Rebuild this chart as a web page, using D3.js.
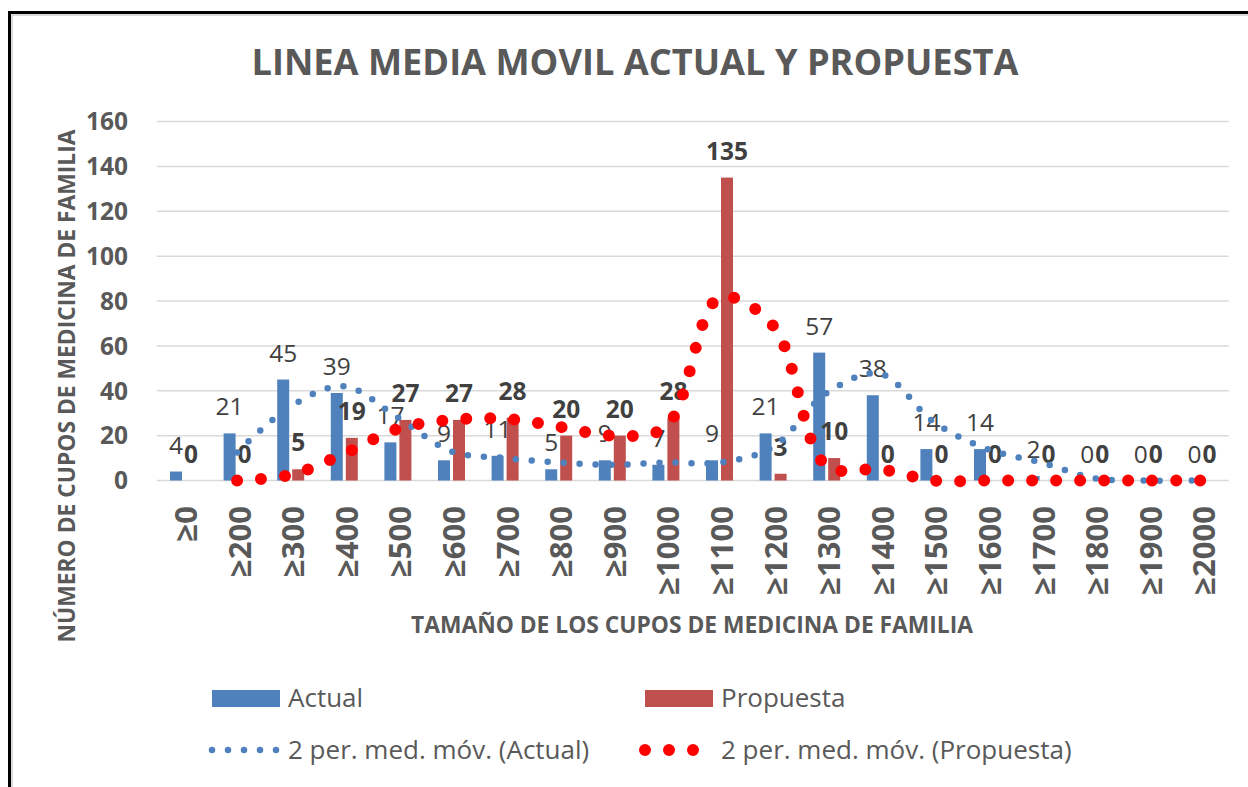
<!DOCTYPE html>
<html>
<head>
<meta charset="utf-8">
<script src="https://cdn.jsdelivr.net/npm/d3@7"></script>
<style>
  body { margin: 0; background: #fff; }
  svg { display: block; font-family: "Open Sans", "DejaVu Sans", sans-serif; }
</style>
</head>
<body>
<div id="container"></div>
<script>
// ---------------------------- DATA ----------------------------//
var categories = ["≥0", "≥200", "≥300", "≥400", "≥500", "≥600", "≥700", "≥800", "≥900", "≥1000",
  "≥1100", "≥1200", "≥1300", "≥1400", "≥1500", "≥1600", "≥1700", "≥1800", "≥1900", "≥2000"];
var actual = [4, 21, 45, 39, 17, 9, 11, 5, 9, 7, 9, 21, 57, 38, 14, 14, 2, 0, 0, 0];
var propuesta = [0, 0, 5, 19, 27, 27, 28, 20, 20, 28, 135, 3, 10, 0, 0, 0, 0, 0, 0, 0];
// moving average (2 periods) values as drawn by the trendlines
var mmActual = [null, 12.5, 33, 42, 28, 13, 10, 8, 7, 8, 8, 15, 39, 47.5, 26, 14, 8, 1, 0, 0];
var mmPropuesta = [null, 0, 2.5, 12, 23, 27, 27.5, 24, 20, 24, 81.5, 69, 6.5, 5, 0, 0, 0, 0, 0, 0];
var yTicks = [0, 20, 40, 60, 80, 100, 120, 140, 160];
var seriesNames = ["Actual", "Propuesta"];

var colors = { Actual: "#4F81BD", Propuesta: "#C0504D" };
var textGray = "#595959";
var labelGray = "#404040";

// ---------------------------- SVG -----------------------------//
const width = 1248;
const height = 787;

const svg = d3.select("div#container").append("svg")
    .attr("width", width)
    .attr("height", height);

// frame
svg.append("rect")
    .attr("x", 12).attr("y", 15)
    .attr("width", width).attr("height", height)
    .attr("fill", "none").attr("stroke", "#d0d0d0").attr("stroke-width", 1.5);
svg.append("rect")
    .attr("x", 9.5).attr("y", 12.5)
    .attr("width", width).attr("height", height)
    .attr("fill", "none").attr("stroke", "#000").attr("stroke-width", 3);

// --------------------------- SCALES ---------------------------//
const x0 = d3.scaleBand().domain(categories).range([156.7, 1228.7]);
const bw = x0.bandwidth();
const x1 = d3.scaleBand().domain(seriesNames)
    .range([bw / 2 - 13.5, bw / 2 + 13.5]).paddingInner(0.2);
const y = d3.scaleLinear().domain([0, 160]).range([480.5, 121.5]);

// ---------------------------- GRID ----------------------------//
svg.append("g").selectAll("line")
  .data(yTicks)
  .enter().append("line")
    .attr("x1", 156.7).attr("x2", 1228.7)
    .attr("y1", d => y(d)).attr("y2", d => y(d))
    .attr("stroke", "#D9D9D9").attr("stroke-width", 1.5);

// y tick labels
svg.append("g").selectAll("text")
  .data(yTicks)
  .enter().append("text")
    .attr("x", 128).attr("y", d => y(d))
    .attr("dy", "0.36em")
    .attr("text-anchor", "end")
    .attr("font-size", 24.5).attr("font-weight", "bold")
    .attr("fill", textGray)
    .text(d => d);

// x tick labels
svg.append("g").selectAll("text")
  .data(categories)
  .enter().append("text")
    .attr("transform", d => "translate(" + (x0(d) + bw / 2 + 13.5) + ",506) rotate(-90)")
    .attr("text-anchor", "end")
    .attr("font-size", 31).attr("font-weight", "bold")
    .attr("fill", textGray)
    .text(d => d);

// ---------------------------- BARS ----------------------------//
var rows = categories.map(function(c, i) {
  return { cat: c, Actual: actual[i], Propuesta: propuesta[i] };
});

const groups = svg.append("g").selectAll("g")
  .data(rows)
  .enter().append("g")
    .attr("transform", d => "translate(" + x0(d.cat) + ",0)");

groups.selectAll("rect")
  .data(d => seriesNames.map(k => ({ key: k, value: d[k] })))
  .enter().append("rect")
    .attr("x", d => x1(d.key))
    .attr("width", x1.bandwidth())
    .attr("y", d => y(d.value))
    .attr("height", d => y(0) - y(d.value))
    .attr("fill", d => colors[d.key]);

// ----------------------- MOVING AVERAGES ----------------------//
const line = d3.line()
    .defined(d => d.v != null)
    .x(d => x0(d.cat) + bw / 2)
    .y(d => y(d.v))
    .curve(d3.curveCatmullRom.alpha(0.5));

svg.append("path")
    .datum(categories.map((c, i) => ({ cat: c, v: mmActual[i] })))
    .attr("d", line)
    .attr("fill", "none")
    .attr("stroke", "#4F81BD").attr("stroke-width", 6.5)
    .attr("stroke-linecap", "round")
    .attr("stroke-dasharray", "0 16");

svg.append("path")
    .datum(categories.map((c, i) => ({ cat: c, v: mmPropuesta[i] })))
    .attr("d", line)
    .attr("fill", "none")
    .attr("stroke", "#FF0000").attr("stroke-width", 12)
    .attr("stroke-linecap", "round")
    .attr("stroke-dasharray", "0 24");

// ------------------------- DATA LABELS ------------------------//
groups.selectAll("text")
  .data(d => seriesNames.map(k => ({ key: k, value: d[k] })))
  .enter().append("text")
    .attr("x", d => x1(d.key) + x1.bandwidth() / 2)
    .attr("y", d => y(d.value) - 18)
    .attr("text-anchor", "middle")
    .attr("font-size", 24.5)
    .attr("font-weight", d => d.key == "Propuesta" ? "bold" : "normal")
    .attr("fill", labelGray)
    .text(d => d.value);

// ---------------------------- TITLES --------------------------//
svg.append("text")
    .attr("x", 635).attr("y", 75)
    .attr("text-anchor", "middle")
    .attr("font-size", 36.2).attr("font-weight", "bold")
    .attr("fill", textGray)
    .text("LINEA MEDIA MOVIL ACTUAL Y PROPUESTA");

svg.append("text")
    .attr("transform", "translate(75,386) rotate(-90)")
    .attr("text-anchor", "middle")
    .attr("font-size", 22.8).attr("font-weight", "bold")
    .attr("fill", textGray)
    .text("NÚMERO DE CUPOS DE MEDICINA DE FAMILIA");

svg.append("text")
    .attr("x", 692).attr("y", 633)
    .attr("text-anchor", "middle")
    .attr("font-size", 22.8).attr("font-weight", "bold")
    .attr("fill", textGray)
    .text("TAMAÑO DE LOS CUPOS DE MEDICINA DE FAMILIA");

// ---------------------------- LEGEND --------------------------//
const legend = svg.append("g").attr("font-size", 26).attr("fill", textGray);

[["Actual", 212], ["Propuesta", 645]].forEach(function(item) {
  legend.append("rect")
      .attr("x", item[1]).attr("y", 690)
      .attr("width", 68).attr("height", 17)
      .attr("fill", colors[item[0]]);
  legend.append("text")
      .attr("x", item[1] + 76).attr("y", 707)
      .text(item[0]);
});

legend.append("path")
    .attr("d", "M212,750H276.5")
    .attr("stroke", "#4F81BD").attr("stroke-width", 6.5)
    .attr("stroke-linecap", "round").attr("stroke-dasharray", "0 16");
legend.append("text")
    .attr("x", 288).attr("y", 759)
    .text("2 per. med. móv. (Actual)");

legend.append("path")
    .attr("d", "M645,750H693.5")
    .attr("stroke", "#FF0000").attr("stroke-width", 12)
    .attr("stroke-linecap", "round").attr("stroke-dasharray", "0 24");
legend.append("text")
    .attr("x", 721).attr("y", 759)
    .text("2 per. med. móv. (Propuesta)");
</script>
</body>
</html>
